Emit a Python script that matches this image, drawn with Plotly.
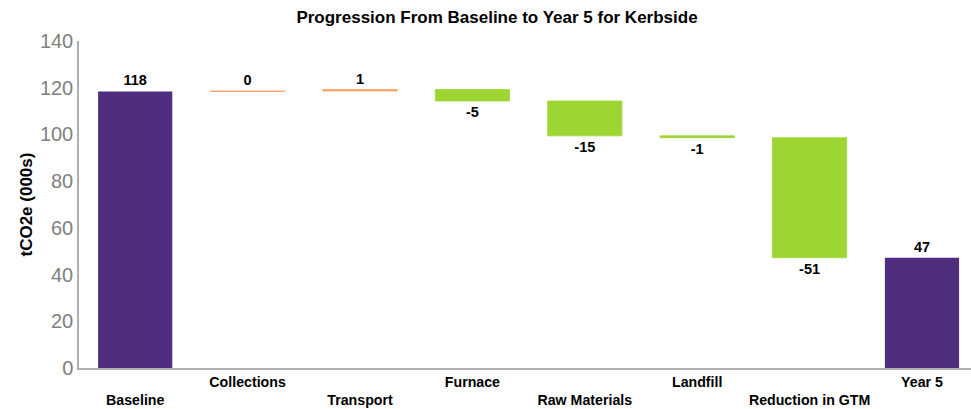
import plotly.graph_objects as go

categories = ["Baseline", "Collections", "Transport", "Furnace", "Raw Materials",
              "Landfill", "Reduction in GTM", "Year 5"]
values = [118.4, 0.2, 0.6, -4.9, -14.9, -0.8, -51.4, 0]
measures = ["absolute", "relative", "relative", "relative", "relative",
            "relative", "relative", "total"]
y_ticks = [0, 20, 40, 60, 80, 100, 120, 140]

# staggered category labels (alternate rows like the original)
tick_text = [("<br><b>" + c + "</b>") if i % 2 == 0 else ("<b>" + c + "</b>")
             for i, c in enumerate(categories)]

# labels: rounded deltas, running total for the final bar
running = 0
labels = []
for v, m in zip(values, measures):
    if m == "absolute":
        running = v
        labels.append(f"{round(v):d}")
    elif m == "relative":
        running += v
        labels.append(f"{round(v):d}")
    else:
        labels.append(f"{round(running):d}")

fig = go.Figure(go.Waterfall(
    x=list(range(len(categories))),
    y=values,
    measure=measures,
    text=labels,
    texttemplate="<b>%{text}</b>",
    textposition="outside",
    textfont=dict(family="Liberation Sans, Arial", size=14.5, color="#000000"),
    increasing=dict(marker=dict(color="#F9A066", line=dict(color="#F9A066", width=0.8))),
    decreasing=dict(marker=dict(color="#9DD632", line=dict(color="#9DD632", width=0.8))),
    totals=dict(marker=dict(color="#4F2D7F", line=dict(color="#4F2D7F", width=0))),
    connector=dict(visible=False),
    width=0.66,
    cliponaxis=False,
))

plot_w = 971 - 79
fig.update_layout(
    width=971, height=409,
    margin=dict(l=79, r=0, t=41, b=41),
    paper_bgcolor="white", plot_bgcolor="white",
    showlegend=False,
    font=dict(family="Liberation Sans, Arial", color="#000000"),
    title=dict(text="<b>Progression From Baseline to Year 5 for Kerbside</b>",
               x=497 / 971, xanchor="center", xref="container",
               y=1 - 17 / 409, yanchor="middle", yref="container",
               font=dict(size=17, color="#000000")),
    xaxis=dict(
        tickmode="array", tickvals=list(range(len(categories))),
        ticktext=tick_text, automargin=False,
        range=[-0.5, 7.436], showgrid=False, zeroline=False,
        showline=True, linecolor="#AFAFAF", linewidth=1.5,
        tickfont=dict(size=14.2, color="#000000"), ticks="",
    ),
    yaxis=dict(
        range=[0, 140], tickvals=y_ticks, showgrid=False, zeroline=False,
        showline=True, linecolor="#AFAFAF", linewidth=1.5, automargin=False,
        tickfont=dict(size=20, color="#7F7F7F"), ticks="",
    ),
    annotations=[dict(
        text="<b>tCO2e (000s)</b>", textangle=-90,
        x=(26 - 79) / plot_w, xref="paper", xanchor="center",
        y=0.5, yref="paper",
        showarrow=False, font=dict(size=17, color="#000000"),
    )],
)

fig.write_html("out.html", config={"displayModeBar": False},
               post_script="document.body.style.margin='0';")
